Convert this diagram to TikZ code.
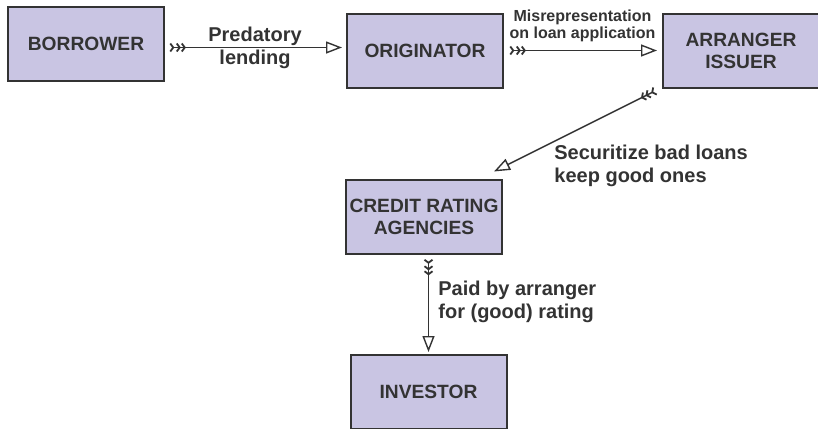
\documentclass[tikz,border=0pt]{standalone}
\usepackage{fontspec}
\setmainfont{Liberation Sans}
\usetikzlibrary{arrows.meta,positioning}
\definecolor{boxfill}{RGB}{201,197,227}
\definecolor{ink}{RGB}{51,51,51}
\tikzset{
  box/.style={draw=ink, line width=1pt, fill=boxfill, rectangle, align=center, font=\fontsize{9.6}{11}\selectfont\bfseries, text=ink, minimum width=78pt, minimum height=37pt, inner sep=1pt},
  arr/.style={{Straight Barb[reversed, length=1.5pt, width=4pt, line width=0.9pt, sep=0.7pt]Straight Barb[reversed, length=1.5pt, width=4pt, line width=0.9pt, sep=0.7pt]Straight Barb[reversed, length=1.5pt, width=4pt, line width=0.9pt]}-{Triangle[open, length=8pt, width=6pt, fill=white, line width=0.7pt]}, draw=ink, line width=0.75pt},
  lbl/.style={font=\fontsize{10}{11.5}\selectfont\bfseries, text=ink, align=center, inner sep=1pt},
  slbl/.style={font=\fontsize{8}{8.5}\selectfont\bfseries, text=ink, align=center, inner sep=1pt},
}
\begin{document}
\begin{tikzpicture}[x=0.5pt,y=-0.5pt]
\useasboundingbox (0,0) rectangle (818,428);
\node[box] (borrower) at (86,43.5) {BORROWER};
\node[box] (originator) at (425,50.5) {ORIGINATOR};
\node[box] (arranger) at (741,51) {ARRANGER\\ISSUER};
\node[box] (cra) at (424,216.5) {CREDIT RATING\\AGENCIES};
\node[box] (investor) at (428.5,392) {INVESTOR};
% flows
\draw[arr] ([shift={(1.5pt,-2pt)}]borrower.east) -- node[lbl]{Predatory\\lending} ([shift={(-2pt,1.5pt)}]originator.west);
\draw[arr] ([xshift=2pt]originator.east) -- node[slbl, above=3pt]{Misrepresentation\\on loan application} ([xshift=-2.5pt]originator.east -| arranger.west);
\draw[arr] ([shift={(-2.5pt,-0.5pt)}]arranger.south west) -- ([shift={(-4.5pt,3.5pt)}]cra.north east);
\draw[arr] ([yshift=-1.5pt]investor.north |- cra.south) -- ([yshift=1pt]investor.north);
\node[lbl, anchor=west, align=left] (securitize) at (552,166) {Securitize bad loans\\keep good ones};
\node[lbl, anchor=west, align=left] (paid) at (436,302) {Paid by arranger\\for (good) rating};
\end{tikzpicture}
\end{document}
